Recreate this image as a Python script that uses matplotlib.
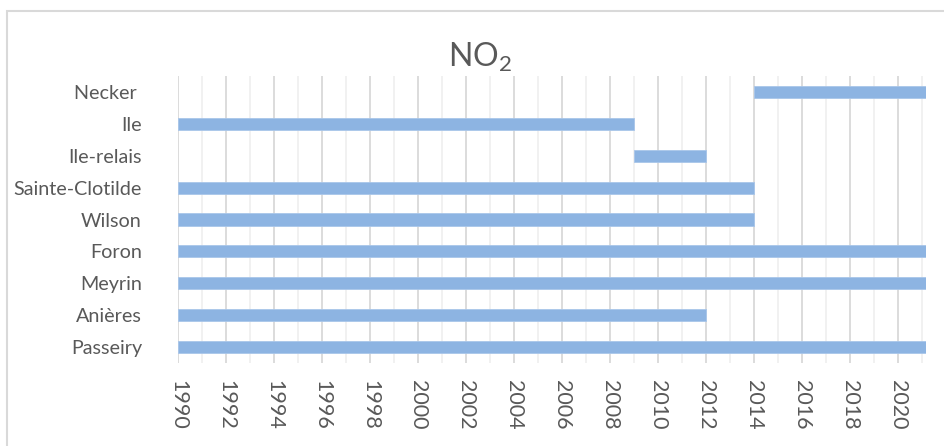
import matplotlib
matplotlib.use("Agg")
import matplotlib.pyplot as plt
from matplotlib.patches import Rectangle
from matplotlib.ticker import MultipleLocator

# Stations (bottom to top) and their measurement periods
stations = ['Passeiry', 'Anières', 'Meyrin', 'Foron', 'Wilson',
            'Sainte-Clotilde', 'Ile-relais', 'Ile', 'Necker ']
start_year = [1990, 1990, 1990, 1990, 1990, 1990, 2009, 1990, 2014]
end_year = [2021.15, 2012, 2021.15, 2021.15, 2014, 2014, 2012, 2009, 2021.15]

X_MIN = 1990
X_MAX = 2021.15
TEXT = '#595959'
BAR = '#8DB4E2'

plt.rcParams['font.family'] = ['Lato', 'DejaVu Sans']
plt.rcParams['mathtext.fontset'] = 'custom'
plt.rcParams['mathtext.rm'] = 'Lato'

fig = plt.figure(figsize=(9.44, 4.46), dpi=100)
ax = fig.add_axes([178 / 944, 1 - 363 / 446, (926 - 178) / 944, (363 - 76) / 446])

widths = [e - s for s, e in zip(start_year, end_year)]
ax.barh(range(len(stations)), widths, left=start_year, height=0.38,
        color=BAR, edgecolor='#A9C6EA', linewidth=0.6, zorder=3)

ax.set_xlim(X_MIN, X_MAX)
ax.set_ylim(-0.5, len(stations) - 0.5)

ax.xaxis.set_major_locator(MultipleLocator(2))
ax.xaxis.set_minor_locator(MultipleLocator(1))
ax.grid(True, which='major', axis='x', color='#D9D9D9', linewidth=1.3, zorder=1)
ax.grid(True, which='minor', axis='x', color='#F0F0F0', linewidth=1.3, zorder=0)

ax.set_yticks(range(len(stations)))
ax.set_yticklabels(stations)
ax.tick_params(axis='y', length=0, pad=26, labelsize=14.2, labelcolor=TEXT)
ax.tick_params(axis='x', which='both', length=0, pad=12, labelsize=15.5,
               labelcolor=TEXT)
for lbl in ax.get_xticklabels():
    lbl.set_rotation(-90)
    lbl.set_ha('center')
    lbl.set_va('top')

for s in ax.spines.values():
    s.set_visible(False)

fig.text(480 / 944, 1 - 57 / 446, r'NO$_2$', ha='center', va='center',
         fontsize=23, color=TEXT)

# chart area border
fig.patches.append(Rectangle((7 / 944, -0.1), 1.1, 1.1 - 11 / 446,
                             transform=fig.transFigure, fill=False,
                             edgecolor='#D9D9D9', linewidth=1.5))

plt.savefig('out.png', dpi=100)
